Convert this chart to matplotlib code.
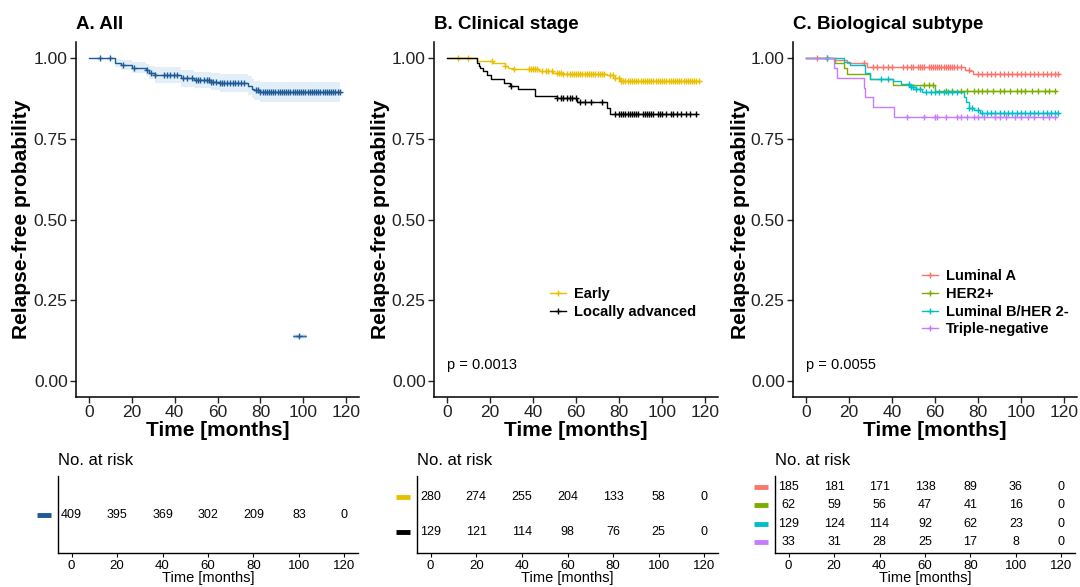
import numpy as np
import matplotlib
matplotlib.use("Agg")
import matplotlib.pyplot as plt
from matplotlib.lines import Line2D

plt.rcParams["font.family"] = ["Liberation Sans", "DejaVu Sans"]

# ---- data ----
xticks = [0, 20, 40, 60, 80, 100, 120]

# A. All
all_t = [0, 12, 15, 20, 26.5, 28, 31, 43, 49, 57, 61, 74, 76, 77, 80, 117]
all_s = [1.0, 0.985, 0.978, 0.970, 0.963, 0.955, 0.947, 0.937, 0.932, 0.927,
         0.923, 0.915, 0.905, 0.900, 0.896, 0.896]
all_hi = [1.0, 0.997, 0.993, 0.988, 0.983, 0.977, 0.971, 0.962, 0.958, 0.953,
          0.950, 0.944, 0.935, 0.930, 0.927, 0.927]
all_lo = [1.0, 0.973, 0.964, 0.953, 0.944, 0.934, 0.924, 0.912, 0.906, 0.901,
          0.896, 0.887, 0.876, 0.870, 0.865, 0.865]
all_cens = [5, 10, 16, 21, 27, 29, 31, 35, 36.5, 38, 39.5, 41, 44, 46, 48, 50,
            51, 52, 53.5, 55, 56, 57, 58, 59.5, 61, 62, 63, 64.5, 66, 67, 68,
            69.5, 71, 72.5, 78, 79, 80, 81, 82, 83, 84, 85, 86, 87, 88, 89, 90,
            91, 92, 93, 94, 95, 96, 97, 98, 99, 100, 101, 102, 103, 104, 105,
            106, 107, 108, 109, 110, 111, 112, 113, 114, 115, 116, 117]
stray_t = [95, 101.5]
stray_s = [0.139, 0.139]
stray_cens = [98]
all_risk = [[409, 395, 369, 302, 209, 83, 0]]

# B. Clinical stage
stage_names = ["Early", "Locally advanced"]
early_t = [0, 14, 21.5, 27, 28.4, 30.8, 43, 49.4, 54, 74.3, 77.4, 80.5, 117.8]
early_s = [1.0, 0.991, 0.984, 0.977, 0.970, 0.965, 0.960, 0.955, 0.950, 0.947,
           0.939, 0.930, 0.930]
early_cens = [5, 10, 21, 27, 31, 38, 39, 40, 41, 42, 44, 46, 47, 49, 51, 52, 53,
              54, 56, 57, 58, 59, 60, 61, 62, 63, 64, 65, 66, 67, 68, 69, 70,
              71, 72, 73, 76, 77, 78, 80, 81, 82, 83, 84, 85, 86, 87, 88, 89,
              90, 91, 92, 93, 94, 95, 96, 97, 98, 99, 100, 101, 102, 103, 104,
              105, 106, 107, 108, 109, 110, 111, 112, 113, 114, 115, 116, 117]
la_t = [0, 14.1, 14.8, 15.5, 17, 18.5, 20.5, 26.5, 29.3, 33.2, 41, 51, 60.3,
        74.3, 75.8, 116]
la_s = [1.0, 0.986, 0.976, 0.969, 0.960, 0.947, 0.936, 0.924, 0.914, 0.903,
        0.883, 0.875, 0.864, 0.847, 0.826, 0.826]
la_cens = [30, 51, 53, 54, 56, 57, 58, 60, 62, 64, 67, 72, 78, 80, 81, 82, 83,
           84, 85, 86, 87, 88, 89, 91, 92, 93, 94, 95, 96, 98, 99, 100, 102,
           104, 105, 107, 109, 111, 113, 116]
stage_risk = [[280, 274, 255, 204, 133, 58, 0],
              [129, 121, 114, 98, 76, 25, 0]]

# C. Biological subtype
sub_names = ["Luminal A", "HER2+", "Luminal B/HER 2-", "Triple-negative"]
luma_t = [0, 13, 19, 28.3, 74, 76.3, 77.8, 117.8]
luma_s = [1.0, 0.995, 0.985, 0.974, 0.964, 0.959, 0.952, 0.952]
luma_cens = [5, 10, 27, 31, 33, 36, 38, 40, 45, 47, 49, 50, 52, 53, 54, 55, 57,
             58, 59, 60, 61, 62, 63, 64, 65, 66, 67, 68, 69, 70, 72, 76, 80,
             82, 84, 86, 88, 90, 92, 94, 96, 98, 100, 102, 104, 106, 108, 110,
             112, 114, 116, 117]
her2_t = [0, 13.6, 17.5, 19, 29.9, 40.3, 60.2, 116.2]
her2_s = [1.0, 0.984, 0.968, 0.952, 0.935, 0.918, 0.897, 0.897]
her2_cens = [55, 57, 59, 65, 68, 72, 75, 78, 80, 82, 84, 87, 90, 92, 95, 98,
             100, 102, 105, 108, 111, 113, 116]
lumb_t = [0, 17.5, 20.5, 27.5, 29.9, 40.5, 44, 48.6, 51, 54, 73.4, 74.5, 75.8,
          78, 81, 117]
lumb_s = [1.0, 0.988, 0.980, 0.954, 0.936, 0.928, 0.921, 0.911, 0.903, 0.895,
          0.879, 0.863, 0.846, 0.838, 0.830, 0.830]
lumb_cens = [10, 35, 38, 48, 49, 50, 51, 53, 56, 58, 60, 62, 64, 66, 68, 70,
             76, 77, 80, 82, 84, 86, 88, 90, 92, 94, 96, 98, 100, 102, 104,
             106, 108, 110, 112, 114, 116, 117]
tneg_t = [0, 13, 14.3, 26.8, 27.5, 31.1, 40.8, 116.2]
tneg_s = [1.0, 0.970, 0.939, 0.909, 0.879, 0.848, 0.818, 0.818]
tneg_cens = [47, 55, 60, 61, 65, 70, 72, 75, 78, 80, 83, 88, 90, 93, 97, 100,
             103, 106, 110, 113, 116]
sub_risk = [[185, 181, 171, 138, 89, 36, 0],
            [62, 59, 56, 47, 41, 16, 0],
            [129, 124, 114, 92, 62, 23, 0],
            [33, 31, 28, 25, 17, 8, 0]]

col_all = "#1D5A96"
col_band = "#E2EEF8"
col_stage = ["#E8C000", "#000000"]
col_sub = ["#F8766D", "#7CAE00", "#00BFC4", "#C77CFF"]

W, H = 1080, 587
fig = plt.figure(figsize=(W / 100, H / 100), dpi=100)


def px_axes(left, top, right, bottom):
    return fig.add_axes([left / W, 1 - bottom / H, (right - left) / W, (bottom - top) / H])


def km(ax, t, s, cens, color, lw=1.0):
    ax.step(t, s, where="post", color=color, lw=lw)
    t = np.asarray(t)
    s = np.asarray(s)
    idx = np.searchsorted(t, cens, side="right") - 1
    ax.plot(cens, s[idx], ls="none", marker="+", ms=5, mew=1.0, color=color)


def style_main(ax, title, ylab_x):
    ax.set_xlim(-6, 126)
    ax.set_ylim(-0.05, 1.05)
    for sp in ["top", "right"]:
        ax.spines[sp].set_visible(False)
    for sp in ["left", "bottom"]:
        ax.spines[sp].set_linewidth(1.1)
    ax.set_xticks(xticks)
    ax.set_yticks([0, 0.25, 0.5, 0.75, 1.0])
    ax.set_yticklabels(["0.00", "0.25", "0.50", "0.75", "1.00"])
    ax.tick_params(labelsize=12.5, length=4, width=1, colors="#222222", pad=2)
    ax.text(0, 1.048, title, transform=ax.transAxes, ha="left", va="center",
            fontsize=13.5, fontweight="bold")
    ax.text(0.5, -0.093, "Time [months]", transform=ax.transAxes, ha="center",
            va="center", fontsize=15, fontweight="bold")
    fig.text(ylab_x / W, 1 - 219 / H, "Relapse-free probability", rotation=90,
             ha="center", va="center", fontsize=15, fontweight="bold")


def risk_table(ax, rows, colors):
    n = len(rows)
    ax.set_xlim(-6, 126)
    ax.set_ylim(n + 0.6, 0.4)
    for sp in ["top", "right"]:
        ax.spines[sp].set_visible(False)
    for sp in ["left", "bottom"]:
        ax.spines[sp].set_linewidth(1.0)
    ax.set_xticks(xticks)
    ax.set_yticks([])
    ax.tick_params(axis="x", labelsize=9.5, length=3, width=0.8, pad=2)
    w = ax.get_position().width * W
    for i, (vals, c) in enumerate(zip(rows, colors)):
        for x, v in zip(xticks, vals):
            ax.text(x, i + 1, str(v), ha="center", va="center", fontsize=9)
        ax.plot([-21 / w, -7 / w], [i + 1, i + 1], color=c, lw=3.5,
                solid_capstyle="butt", clip_on=False,
                transform=ax.get_yaxis_transform())
    ax.text(0, 1.195, "No. at risk", transform=ax.transAxes, ha="left",
            va="center", fontsize=12)
    ax.text(0.5, -0.325, "Time [months]", transform=ax.transAxes, ha="center",
            va="center", fontsize=10.5)


# ---- A ----
axA = px_axes(76, 42, 359, 397)
axA.fill_between(all_t, all_lo, all_hi, step="post", color=col_band, lw=0)
km(axA, all_t, all_s, all_cens, col_all)
axA.plot(stray_t, stray_s, color="#9DBFE0", lw=2.5, solid_capstyle="butt")
km(axA, stray_t, stray_s, stray_cens, col_all, lw=0.6)
style_main(axA, "A. All", 22)

# ---- B ----
axB = px_axes(434, 42, 718, 397)
km(axB, early_t, early_s, early_cens, col_stage[0])
km(axB, la_t, la_s, la_cens, col_stage[1])
style_main(axB, "B. Clinical stage", 381)
axB.text(0, 0.048, "p = 0.0013", fontsize=10.5, ha="left", va="center")
hB = [Line2D([], [], color=c, marker="+", ms=5, lw=1) for c in col_stage]
axB.legend(hB, stage_names, loc="upper left", bbox_to_anchor=(0.384, 0.33),
           frameon=False, borderpad=0, handlelength=1.1, handletextpad=0.5,
           labelspacing=0.25, prop={"weight": "bold", "size": 10.5})

# ---- C ----
axC = px_axes(793, 42, 1077, 397)
for t, s, cns, c in zip([luma_t, her2_t, lumb_t, tneg_t],
                        [luma_s, her2_s, lumb_s, tneg_s],
                        [luma_cens, her2_cens, lumb_cens, tneg_cens], col_sub):
    km(axC, t, s, cns, c)
style_main(axC, "C. Biological subtype", 741)
axC.text(0, 0.048, "p = 0.0055", fontsize=10.5, ha="left", va="center")
hC = [Line2D([], [], color=c, marker="+", ms=5, lw=1) for c in col_sub]
axC.legend(hC, sub_names, loc="upper left", bbox_to_anchor=(0.43, 0.38),
           frameon=False, borderpad=0, handlelength=1.1, handletextpad=0.5,
           labelspacing=0.25, prop={"weight": "bold", "size": 10.5})

# ---- risk tables ----
risk_table(px_axes(58, 476, 358, 553), all_risk, [col_all])
risk_table(px_axes(417, 476, 718, 553), stage_risk, col_stage)
risk_table(px_axes(775, 476, 1075, 553), sub_risk, col_sub)

fig.savefig("out.png", dpi=100)
